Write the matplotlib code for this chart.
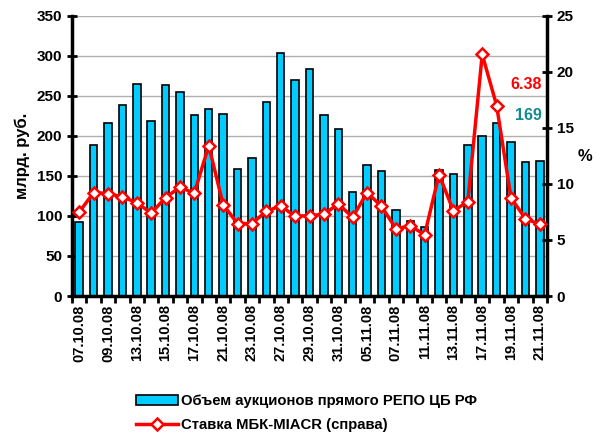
import matplotlib
matplotlib.use("Agg")
import matplotlib.pyplot as plt
from matplotlib.lines import Line2D
from matplotlib.patches import Patch

plt.rcParams['font.family'] = ['Liberation Sans', 'DejaVu Sans']
plt.rcParams['font.weight'] = 'bold'

dates = ["07.10.08", "08.10.08", "09.10.08", "10.10.08", "13.10.08", "14.10.08",
         "15.10.08", "16.10.08", "17.10.08", "20.10.08", "21.10.08", "22.10.08",
         "23.10.08", "24.10.08", "27.10.08", "28.10.08", "29.10.08", "30.10.08",
         "31.10.08", "01.11.08", "05.11.08", "06.11.08", "07.11.08", "10.11.08",
         "11.11.08", "12.11.08", "13.11.08", "14.11.08", "17.11.08", "18.11.08",
         "19.11.08", "20.11.08", "21.11.08"]
repo = [92, 188, 216, 239, 265, 219, 264, 255, 226, 234, 227, 159, 172, 242, 304,
        270, 284, 226, 209, 130, 163, 156, 108, 94, 86, 157, 152, 188, 200, 216,
        192, 167, 169]
miacr = [7.47, 9.23, 9.14, 8.84, 8.33, 7.38, 8.78, 9.70, 9.17, 13.42, 8.15, 6.46,
         6.46, 7.56, 8.04, 7.11, 7.17, 7.29, 8.21, 7.02, 9.23, 8.0, 6.01, 6.25,
         5.48, 10.83, 7.59, 8.42, 21.55, 16.99, 8.75, 6.90, 6.38]
bar_label = "Объем аукционов прямого РЕПО ЦБ РФ"
line_label = "Ставка МБК-MIACR (справа)"

fig = plt.figure(figsize=(6.04, 4.34), dpi=100)
ax = fig.add_axes([72/604, 1-296/434, 475/604, (296-15.7)/434])
x = list(range(len(dates)))
ax.bar(x, repo, width=0.52, color='#00CCFF', edgecolor='black', linewidth=1.2, zorder=2)
ax.set_xlim(-0.5, len(dates) - 0.5)
ax.set_ylim(0, 350)
ax.set_yticks(range(0, 351, 50))
ax.yaxis.grid(True, color='#b0b0b0', linewidth=1, zorder=0)
ax.set_axisbelow(True)
ax.set_xticks(x)
ax.set_xticklabels([d if i % 2 == 0 else "" for i, d in enumerate(dates)],
                   rotation=90, fontsize=10.5, fontweight='bold')
ax.tick_params(axis='x', which='major', length=0, pad=6)
ax.set_xticks([i - 0.5 for i in range(len(dates) + 1)], minor=True)
ax.tick_params(axis='x', which='minor', length=5, width=2, direction='out')
ax.tick_params(axis='y', length=7, width=2, direction='inout', labelsize=11)
for t in ax.get_yticklabels():
    t.set_fontweight('bold')
ax.set_ylabel("млрд. руб.", fontsize=12, fontweight='bold', labelpad=5)
for s in ['left', 'bottom']:
    ax.spines[s].set_linewidth(2.5)
ax.spines['top'].set_visible(False)
ax.spines['right'].set_visible(False)

ax2 = ax.twinx()
ax2.plot(x, miacr, color='red', linewidth=2.5, marker='D', markersize=6.5,
         markerfacecolor='white', markeredgecolor='red', markeredgewidth=1.8, zorder=3)
ax2.set_ylim(0, 25)
ax2.set_yticks(range(0, 26, 5))
ax2.tick_params(axis='y', length=7, width=2, direction='inout', labelsize=11)
for t in ax2.get_yticklabels():
    t.set_fontweight('bold')
ax2.spines['right'].set_linewidth(2.5)
ax2.spines['top'].set_visible(False)
ax2.spines['left'].set_visible(False)
ax2.spines['bottom'].set_visible(False)
fig.text(585/604, 1-157/434, "%", fontsize=12, fontweight='bold', ha='center', va='center')

ax2.text(x[-1] + 0.15, 18.85, f"{miacr[-1]:.2f}", color='red', fontsize=11.5,
         fontweight='bold', ha='right', va='center')
ax2.text(x[-1] + 0.15, 16.1, f"{repo[-1]}", color='#108c8c', fontsize=11.5,
         fontweight='bold', ha='right', va='center')

handles = [Patch(facecolor='#00CCFF', edgecolor='black', linewidth=1.2),
           Line2D([], [], color='red', linewidth=2.5, marker='D', markersize=6.5,
                  markerfacecolor='white', markeredgecolor='red', markeredgewidth=1.8)]
fig.legend(handles, [bar_label, line_label], loc='upper left',
           bbox_to_anchor=(123/604, 1-381/434), frameon=False,
           handlelength=2.8, handletextpad=0.2, labelspacing=0.65,
           prop={'weight': 'bold', 'size': 10.75})

fig.savefig("out.png", dpi=100)
